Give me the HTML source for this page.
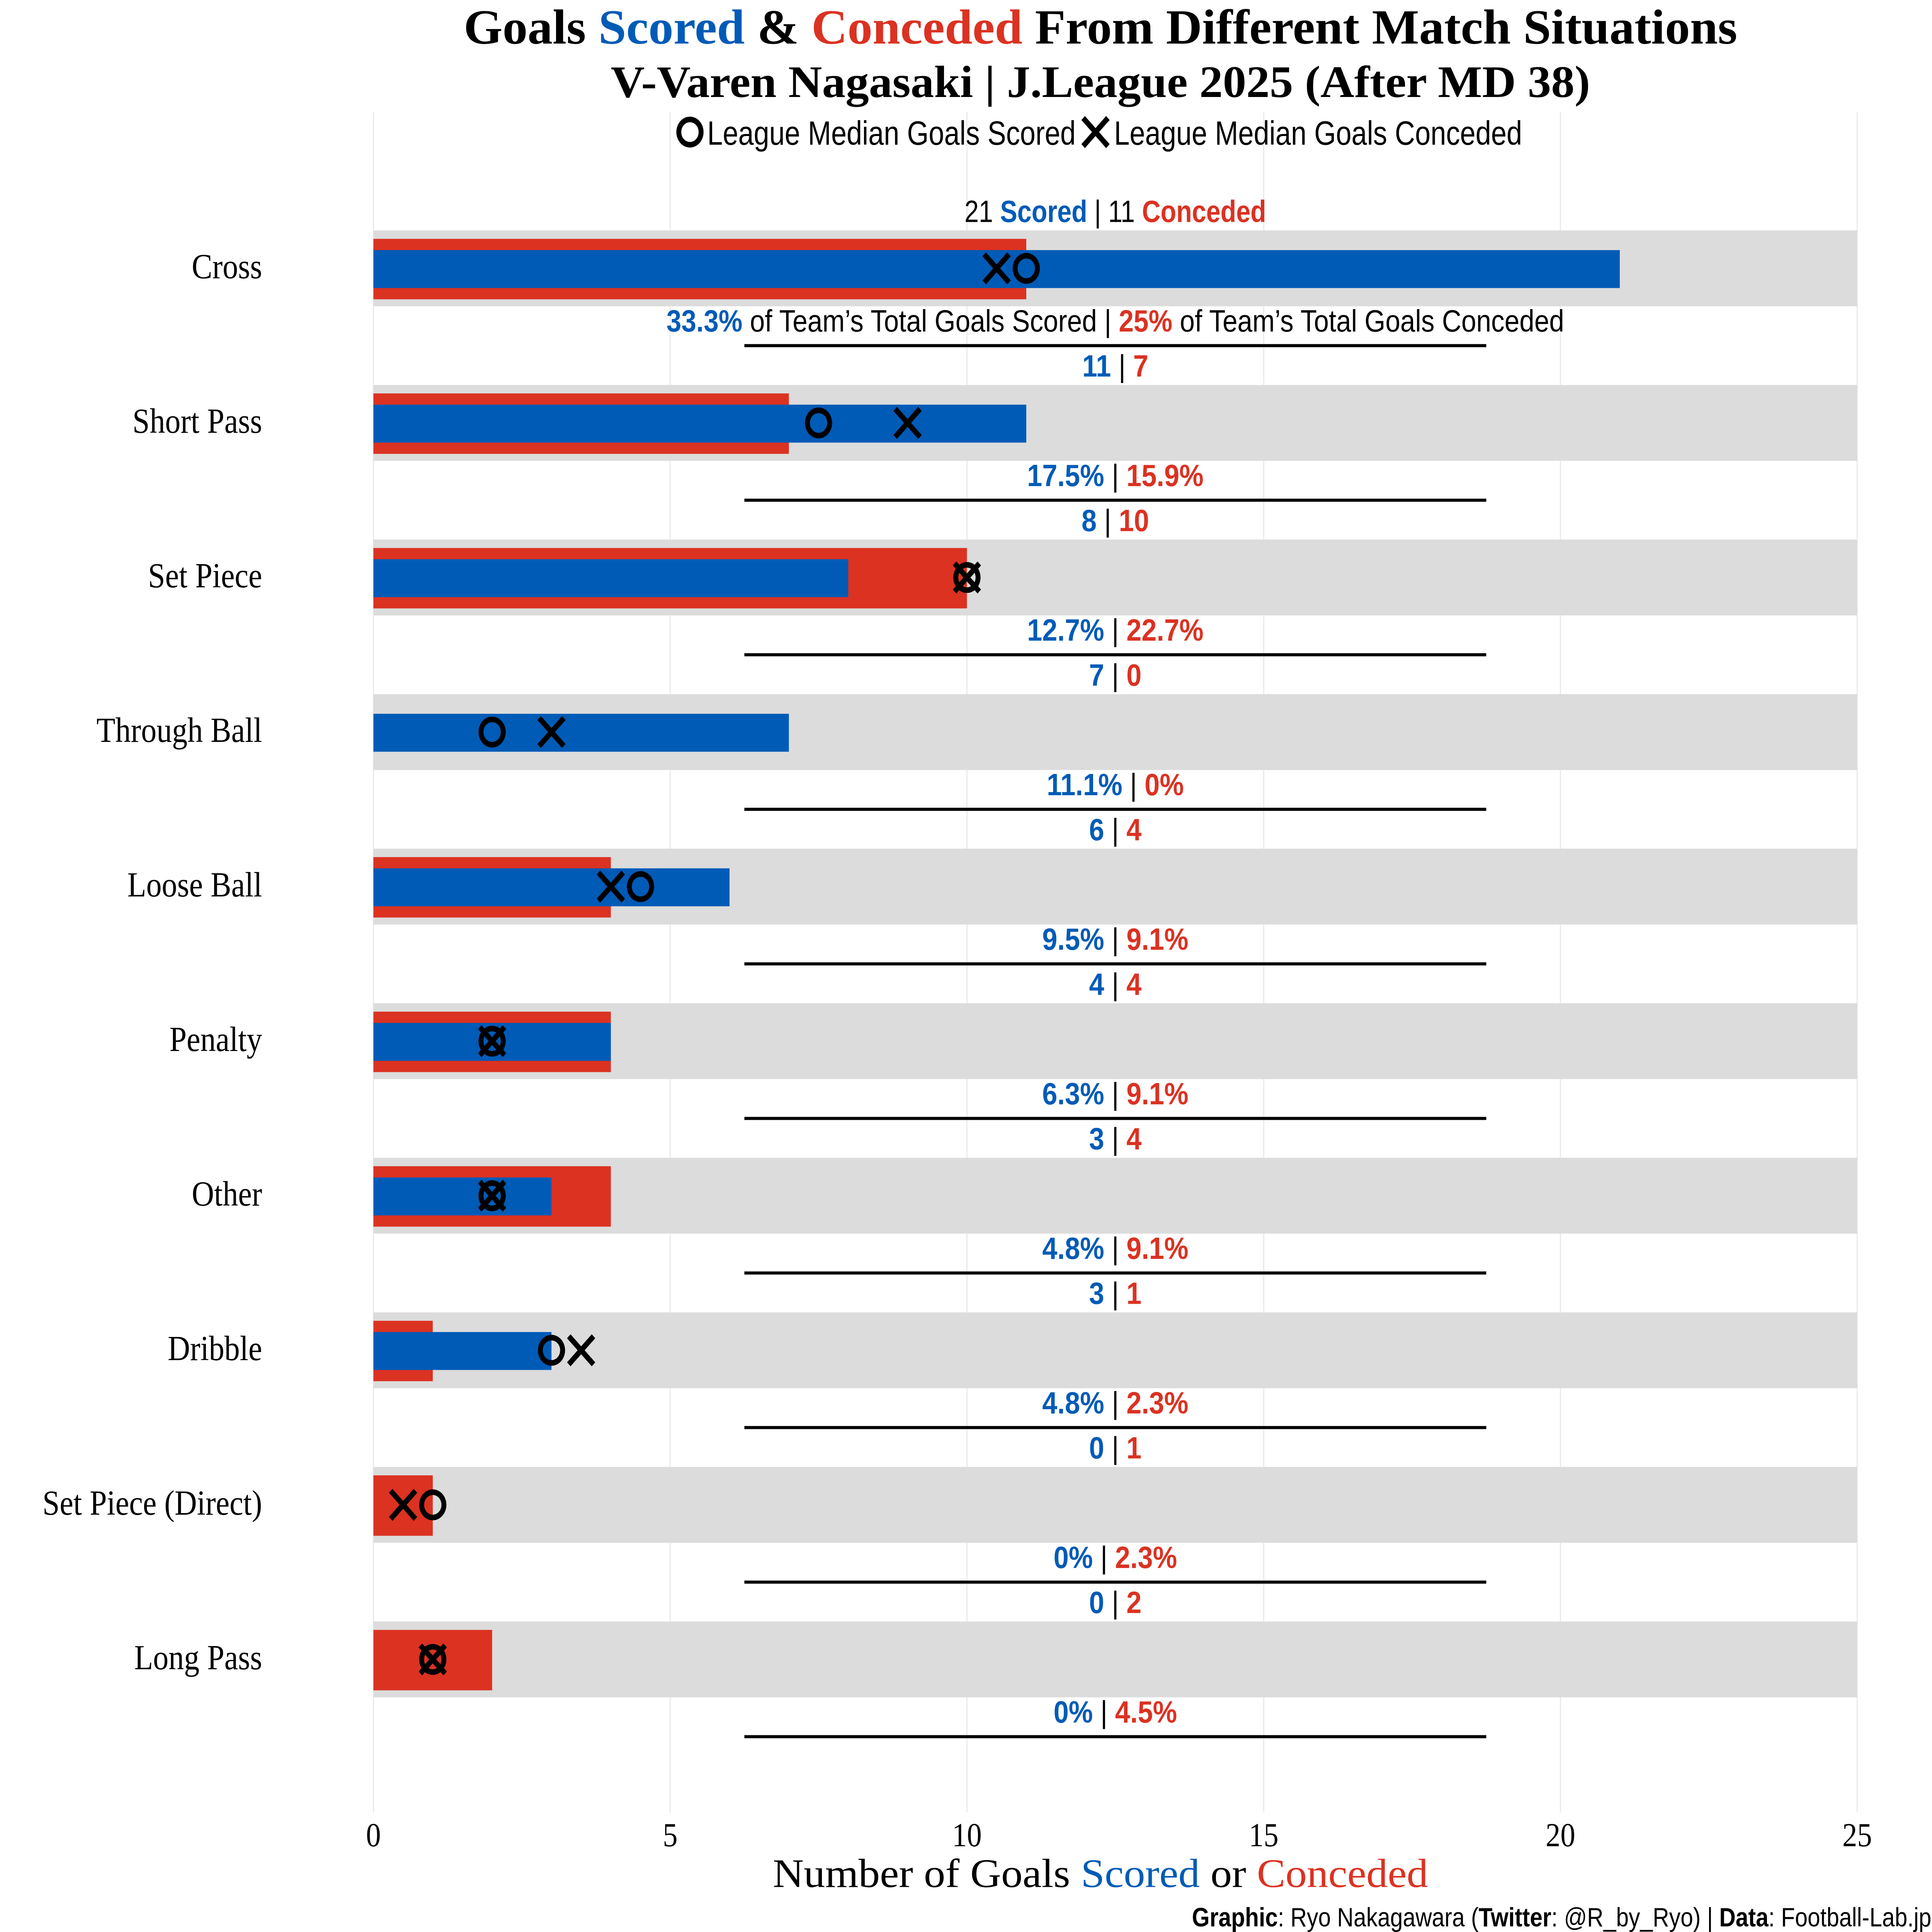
<!DOCTYPE html>
<html><head><meta charset="utf-8">
<style>
html,body{margin:0;padding:0;background:#fff;width:100%;height:100%;overflow:hidden;}
svg{display:block;position:absolute;left:0;top:0;width:100vw;height:100vh;}
.serif{font-family:"Liberation Serif",serif;}
.cond{font-family:"Liberation Sans Narrow","Liberation Sans",sans-serif;}
</style></head>
<body>
<svg id="chart" viewBox="0 0 1562.5 1375" preserveAspectRatio="none" xmlns="http://www.w3.org/2000/svg">
<g id="grid"></g>
<text class="serif" x="890" y="31" text-anchor="middle" font-size="35" font-weight="bold" textLength="1030" lengthAdjust="spacingAndGlyphs">Goals <tspan fill="#005BB7">Scored</tspan> &amp; <tspan fill="#DB3222">Conceded</tspan> From Different Match Situations</text>
<text class="serif" x="890" y="69" text-anchor="middle" font-size="32" font-weight="bold" textLength="792" lengthAdjust="spacingAndGlyphs">V-Varen Nagasaki | J.League 2025 (After MD 38)</text>
<g>
<circle cx="558" cy="94" r="9" fill="none" stroke="#000" stroke-width="4"/>
<text class="cond" x="572" y="103" font-size="24" textLength="298" lengthAdjust="spacingAndGlyphs">League Median Goals Scored</text>
<path d="M876,84 L896,104 M896,84 L876,104" stroke="#000" stroke-width="4"/>
<text class="cond" x="901" y="103" font-size="24" textLength="330" lengthAdjust="spacingAndGlyphs">League Median Goals Conceded</text>
</g>
<g id="rows"></g>
<g id="xticks"></g>
<text class="serif" x="890" y="1343" text-anchor="middle" font-size="29" textLength="530" lengthAdjust="spacingAndGlyphs">Number of Goals <tspan fill="#005BB7">Scored</tspan> or <tspan fill="#DB3222">Conceded</tspan></text>
<text class="cond" x="1562" y="1371" text-anchor="end" font-size="19" textLength="598" lengthAdjust="spacingAndGlyphs"><tspan font-weight="bold">Graphic</tspan>: Ryo Nakagawara (<tspan font-weight="bold">Twitter</tspan>: @R_by_Ryo) | <tspan font-weight="bold">Data</tspan>: Football-Lab.jp</text>
</svg>
<script>
const categories = ["Cross","Short Pass","Set Piece","Through Ball","Loose Ball","Penalty","Other","Dribble","Set Piece (Direct)","Long Pass"];
const scored = [21,11,8,7,6,4,3,3,0,0];
const conceded = [11,7,10,0,4,4,4,1,1,2];
const medianScored = [11,7.5,10,2,4.5,2,2,3,1,1];
const medianConceded = [10.5,9,10,3,4,2,2,3.5,0.5,1];
const pctScored = ["33.3%","17.5%","12.7%","11.1%","9.5%","6.3%","4.8%","4.8%","0%","0%"];
const pctConceded = ["25%","15.9%","22.7%","0%","9.1%","9.1%","9.1%","2.3%","2.3%","4.5%"];
const xTicks = [0,5,10,15,20,25];

const NS="http://www.w3.org/2000/svg";
const BLUE="#005BB7", RED="#DB3222";
const x = v => 302 + v*48;
const y = i => 190 + i*110;
function mk(tag, attrs, parent, text){
  const e=document.createElementNS(NS,tag);
  for(const k in attrs) e.setAttribute(k,attrs[k]);
  if(text!==undefined) e.textContent=text;
  parent.appendChild(e); return e;
}
const grid=document.getElementById('grid');
const rows=document.getElementById('rows');
const xt=document.getElementById('xticks');
xTicks.forEach(t=>{
  const l=mk('line',{x1:x(t),x2:x(t),y1:80,y2:1290,stroke:'#ebebeb','stroke-width':1},grid);
  
  
  const tx=mk('text',{x:x(t),y:1314,'text-anchor':'middle','font-size':24,'class':'serif'},xt,String(t));
  
  
});
categories.forEach((c,i)=>{
  const cy=y(i);
  const g=mk('g',{},rows);
  
  
  const bg=mk('rect',{x:x(0),y:cy-26,width:x(25)-x(0),height:54,fill:'#dcdcdc'},g);
  
  
  const rb=mk('rect',{x:x(0),y:cy-20,width:x(conceded[i])-x(0),height:43,fill:RED},g);
  
  
  const bb=mk('rect',{x:x(0),y:cy-12,width:x(scored[i])-x(0),height:27,fill:BLUE},g);
  
  
  const mx=x(medianConceded[i]);
  const xm=mk('path',{d:`M${mx-10},${cy-9} L${mx+10},${cy+11} M${mx+10},${cy-9} L${mx-10},${cy+11}`,stroke:'#000','stroke-width':4,fill:'none'},g);
  
  
  const cm=mk('circle',{cx:x(medianScored[i]),cy:cy+1,r:9,fill:'none',stroke:'#000','stroke-width':4},g);
  
  
  const lab=mk('text',{x:212,y:cy+8,'text-anchor':'end','font-size':25,'class':'serif'},g,c);
  
  
  const ct=mk('text',{x:902,y:cy-32,'text-anchor':'middle','font-size':22,'class':'cond'},g);
  
  
  if(i===0){
    ct.setAttribute('textLength','244');
    ct.setAttribute('lengthAdjust','spacingAndGlyphs');
    mk('tspan',{},ct,scored[i]+' ');
    mk('tspan',{fill:BLUE,'font-weight':'bold'},ct,'Scored');
    mk('tspan',{},ct,' | '+conceded[i]+' ');
    mk('tspan',{fill:RED,'font-weight':'bold'},ct,'Conceded');
  } else {
    mk('tspan',{fill:BLUE,'font-weight':'bold'},ct,String(scored[i]));
    mk('tspan',{},ct,' | ');
    mk('tspan',{fill:RED,'font-weight':'bold'},ct,String(conceded[i]));
  }
  const pt=mk('text',{x:902,y:cy+46,'text-anchor':'middle','font-size':22,'class':'cond'},g);
  
  
  if(i===0){
    pt.setAttribute('textLength','726');
    pt.setAttribute('lengthAdjust','spacingAndGlyphs');
    mk('tspan',{fill:BLUE,'font-weight':'bold'},pt,pctScored[i]);
    mk('tspan',{},pt," of Team’s Total Goals Scored | ");
    mk('tspan',{fill:RED,'font-weight':'bold'},pt,pctConceded[i]);
    mk('tspan',{},pt," of Team’s Total Goals Conceded");
  } else {
    mk('tspan',{fill:BLUE,'font-weight':'bold'},pt,pctScored[i]);
    mk('tspan',{},pt,' | ');
    mk('tspan',{fill:RED,'font-weight':'bold'},pt,pctConceded[i]);
  }
  const sep=mk('line',{x1:x(6.25),x2:x(18.75),y1:cy+56,y2:cy+56,stroke:'#000','stroke-width':2.2},g);
  
  
});
</script>
</body></html>
